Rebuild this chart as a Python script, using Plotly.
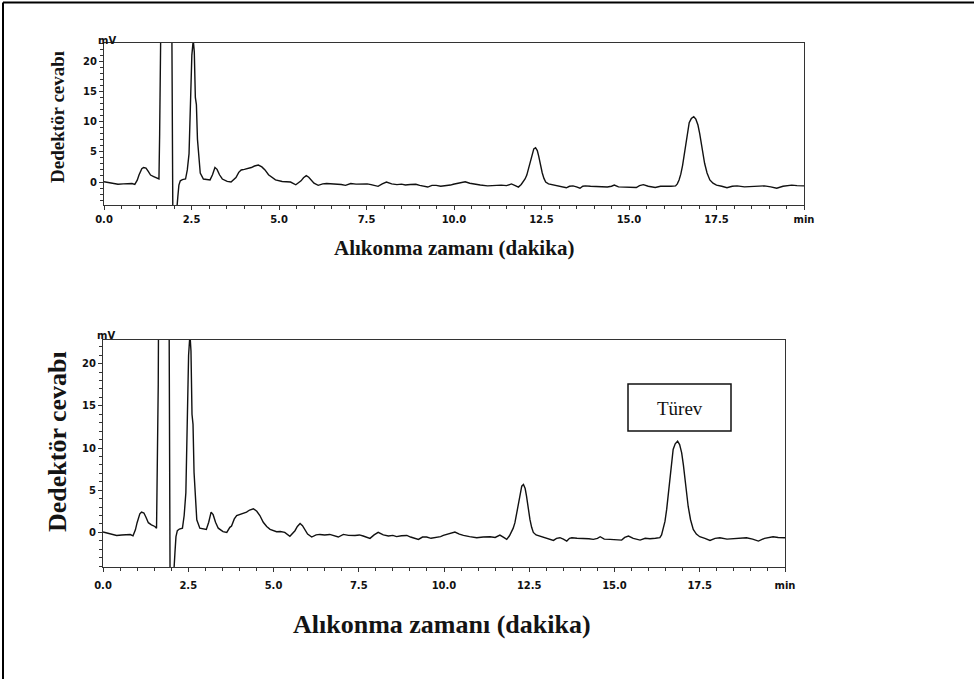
import plotly.graph_objects as go

# Chromatogram (time in min, detector response in mV)
time_min = [0.00, 0.15, 0.30, 0.40, 0.55, 0.70, 0.80, 0.88, 0.95, 1.00, 1.08, 1.13, 1.20, 1.26, 1.33,
            1.42, 1.52, 1.57, 1.59, 1.60, 1.62, 1.64, 1.70, 1.85, 1.93, 1.945, 1.96, 1.98, 2.06, 2.08,
            2.11, 2.14, 2.18, 2.24, 2.33, 2.38, 2.43, 2.48, 2.51, 2.55, 2.58, 2.61, 2.64, 2.67, 2.72,
            2.75, 2.84, 2.95, 3.03, 3.10, 3.17, 3.23, 3.30, 3.38, 3.45, 3.52, 3.63, 3.72, 3.77, 3.85,
            3.92, 4.01, 4.11, 4.21, 4.30, 4.41, 4.51, 4.60, 4.70, 4.80, 4.90, 5.09, 5.20, 5.33, 5.48,
            5.56, 5.63, 5.70, 5.78, 5.85, 5.92, 6.00, 6.12, 6.25, 6.36, 6.50, 6.65, 6.78, 6.90, 7.05,
            7.20, 7.39, 7.52, 7.63, 7.83, 7.95, 8.07, 8.22, 8.37, 8.50, 8.61, 8.75, 8.91, 9.02, 9.15,
            9.25, 9.37, 9.49, 9.62, 9.79, 9.90, 9.98, 10.15, 10.32, 10.45, 10.57, 10.75, 10.96, 11.15, 11.35,
            11.50, 11.64, 11.75, 11.84, 11.92, 11.98, 12.03, 12.08, 12.13, 12.18, 12.23, 12.28, 12.33, 12.38, 12.42,
            12.47, 12.52, 12.57, 12.62, 12.70, 12.81, 13.01, 13.11, 13.21, 13.30, 13.40, 13.50, 13.60, 13.68, 13.75,
            13.90, 14.09, 14.25, 14.38, 14.50, 14.58, 14.70, 14.87, 15.05, 15.21, 15.30, 15.41, 15.55, 15.75, 15.90,
            16.04, 16.20, 16.33, 16.38, 16.43, 16.48, 16.53, 16.58, 16.63, 16.68, 16.72, 16.78, 16.85, 16.91, 16.97,
            17.02, 17.07, 17.12, 17.16, 17.23, 17.31, 17.40, 17.50, 17.65, 17.80, 17.95, 18.09, 18.30, 18.48, 18.65,
            18.87, 19.05, 19.22, 19.40, 19.55, 19.65, 19.80, 20.00]
signal_mv = [0.05, -0.10, -0.30, -0.36, -0.30, -0.30, -0.25, -0.40, 0.30, 1.15, 2.20, 2.40, 2.30, 1.80, 1.15,
             0.90, 0.70, 0.50, 8.00, 17.3, 17.5, 35.0, 80.0, 80.0, 35.0, 20.0, 0.0, -20.0, -20.0, -4.5,
             -2.4, -0.5, 0.2, 0.4, 0.5, 2.0, 4.7, 13.8, 21.0, 23.5, 21.5, 14.0, 12.8, 7.1, 3.0,
             1.5, 0.5, 0.4, 0.35, 1.2, 2.4, 2.1, 1.2, 0.5, 0.3, 0.1, 0.0, 0.6, 0.75, 1.6,
             2.0, 2.1, 2.2, 2.4, 2.65, 2.8, 2.5, 2.0, 1.2, 0.7, 0.36, 0.08, 0.1, 0.0, -0.45,
             -0.1, 0.2, 0.7, 1.05, 0.8, 0.36, -0.2, -0.55, -0.3, -0.24, -0.3, -0.24, -0.4, -0.55, -0.24,
             -0.35, -0.36, -0.3, -0.43, -0.71, -0.3, 0.0, -0.3, -0.43, -0.35, -0.5, -0.4, -0.36, -0.55, -0.71,
             -0.83, -0.55, -0.55, -0.7, -0.63, -0.5, -0.36, -0.2, 0.04, -0.2, -0.36, -0.5, -0.63, -0.55, -0.51,
             -0.6, -0.32, -0.6, -0.83, -0.4, 0.0, 0.5, 1.15, 2.2, 3.5, 4.7, 5.48, 5.68, 5.2, 4.3,
             2.8, 1.54, 0.6, 0.0, -0.3, -0.43, -0.63, -0.75, -0.95, -0.7, -0.63, -0.8, -1.03, -0.7, -0.63,
             -0.7, -0.71, -0.75, -0.83, -0.7, -0.51, -0.8, -0.83, -0.85, -0.91, -0.6, -0.43, -0.7, -0.91, -0.7,
             -0.75, -0.7, -0.63, -0.3, 0.35, 1.3, 2.72, 4.6, 6.67, 8.4, 9.83, 10.5, 10.8, 10.4, 9.43,
             8.0, 6.27, 4.6, 3.1, 1.5, 0.35, -0.2, -0.51, -0.7, -0.95, -0.7, -0.63, -0.8, -0.75, -0.65,
             -0.63, -0.8, -1.03, -0.7, -0.6, -0.51, -0.6, -0.63]

x_tick_vals = [0.0, 2.5, 5.0, 7.5, 10.0, 12.5, 15.0, 17.5, 20.0]
x_tick_text = ["0.0", "2.5", "5.0", "7.5", "10.0", "12.5", "15.0", "17.5", "min"]
y_tick_vals = [0, 5, 10, 15, 20]

x_title = "Alıkonma zamanı (dakika)"
y_title = "Dedektör cevabı"
y_unit = "mV"
peak_label = "Türev"

W, H = 974, 679


def px_x(p):
    return p / W


def px_y(p):
    return 1 - p / H


tick_font = dict(family="DejaVu Sans", size=10, color="#111", weight="bold")
frame = "#333"

fig = go.Figure()
for xa, ya in (("x", "y"), ("x2", "y2")):
    fig.add_trace(go.Scatter(x=time_min, y=signal_mv, mode="lines",
                             line=dict(color="#111", width=1.4),
                             xaxis=xa, yaxis=ya, showlegend=False, hoverinfo="skip"))


def xaxis(domain, anchor, standoff):
    return dict(domain=domain, anchor=anchor, range=[0, 20], showline=True, mirror=True,
                linecolor=frame, linewidth=1, showgrid=False, zeroline=False, automargin=False,
                ticks="outside", ticklen=4, tickwidth=1, tickcolor=frame,
                tickvals=x_tick_vals, ticktext=x_tick_text, tickfont=tick_font,
                ticklabelstandoff=standoff,
                minor=dict(dtick=0.5, tick0=0, ticks="outside", ticklen=3, tickcolor=frame, showgrid=False))


def yaxis(domain, anchor, rng):
    return dict(domain=domain, anchor=anchor, range=rng, showline=True, mirror=True,
                linecolor=frame, linewidth=1, showgrid=False, zeroline=False, automargin=False,
                ticks="outside", ticklen=4, tickwidth=1, tickcolor=frame,
                tickvals=y_tick_vals, tickfont=tick_font,
                minor=dict(dtick=1, tick0=0, ticks="outside", ticklen=3, tickcolor=frame, showgrid=False))


fig.update_layout(
    width=W, height=H, margin=dict(l=0, r=0, t=0, b=0, autoexpand=False),
    paper_bgcolor="white", plot_bgcolor="white",
    xaxis=xaxis([px_x(104), px_x(804)], "y", 1),
    yaxis=yaxis([px_y(205), px_y(43)], "x", [-3.8, 23.0]),
    xaxis2=xaxis([px_x(103), px_x(785)], "y2", 5),
    yaxis2=yaxis([px_y(567), px_y(340)], "x2", [-4.1, 22.8]),
)

title_color = "#141414"


def note(xp, yp, text, font, angle=0):
    return dict(x=px_x(xp), y=px_y(yp), xref="paper", yref="paper", text=text, showarrow=False,
                xanchor="center", yanchor="middle", textangle=angle, font=font)


ann = [
    note(454, 248, x_title, dict(family="Liberation Serif", size=21, color=title_color, weight="bold")),
    note(442, 624, x_title, dict(family="Liberation Serif", size=26, color=title_color, weight="bold")),
    note(57, 117, y_title, dict(family="Liberation Serif", size=19, color=title_color, weight="bold"), -90),
    note(57, 442, y_title, dict(family="Liberation Serif", size=26, color=title_color, weight="bold"), -90),
    note(107, 40, y_unit, dict(family="DejaVu Sans", size=10, color="#111", weight="bold")),
    note(106, 335, y_unit, dict(family="DejaVu Sans", size=10, color="#111", weight="bold")),
    note(680, 408, peak_label, dict(family="Liberation Serif", size=19, color="#111")),
]
fig.update_layout(annotations=ann)

shapes = [
    dict(type="rect", xref="paper", yref="paper", x0=px_x(628), x1=px_x(731), y0=px_y(431), y1=px_y(384),
         line=dict(color="#111", width=1.5), fillcolor="rgba(0,0,0,0)", layer="above"),
    # page frame (top and left edges)
    dict(type="line", xref="paper", yref="paper", x0=px_x(3), x1=1, y0=px_y(2.5), y1=px_y(2.5),
         line=dict(color="black", width=2)),
    dict(type="line", xref="paper", yref="paper", x0=px_x(3), x1=px_x(3), y0=0, y1=px_y(2.5),
         line=dict(color="black", width=2)),
]
fig.update_layout(shapes=shapes)

fig.write_html("out.html")
